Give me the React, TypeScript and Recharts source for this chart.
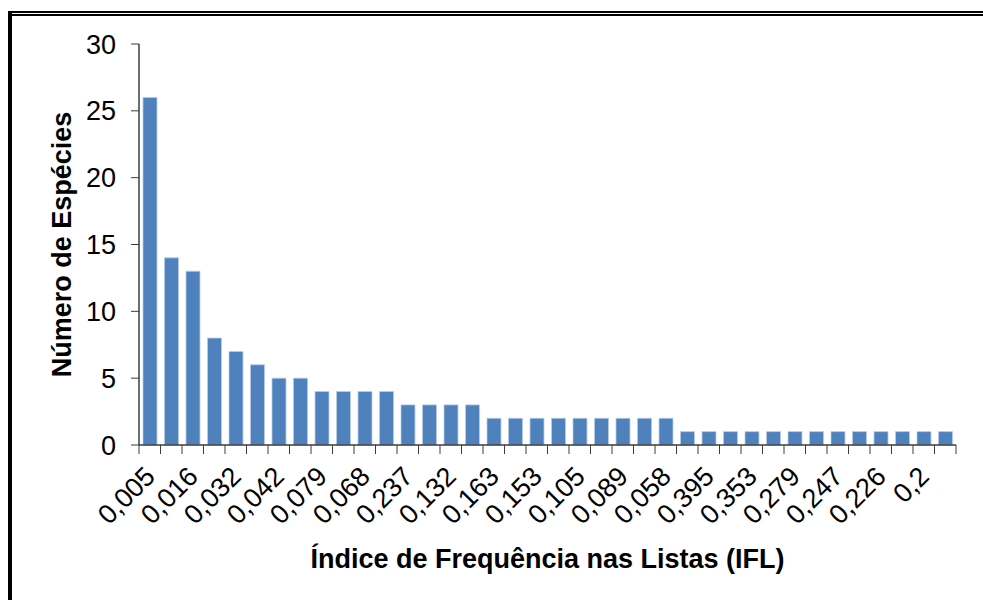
import React from "react";
import { Bar, BarChart, XAxis, YAxis } from "recharts";

// IFL categories (every other one is shown on the axis in the original)
const iflLabels = [
  "0,005", "0,011", "0,016", "0,026", "0,032", "0,037", "0,042", "0,047",
  "0,079", "0,074", "0,068", "0,063", "0,237", "0,184", "0,132", "0,121",
  "0,163", "0,158", "0,153", "0,111", "0,105", "0,095", "0,089", "0,084",
  "0,058", "0,421", "0,395", "0,368", "0,353", "0,316", "0,279", "0,263",
  "0,247", "0,232", "0,226", "0,211", "0,2", "0,195",
];

const speciesCount = [
  26, 14, 13, 8, 7, 6, 5, 5, 4, 4, 4, 4, 3, 3, 3, 3, 2, 2, 2,
  2, 2, 2, 2, 2, 2, 1, 1, 1, 1, 1, 1, 1, 1, 1, 1, 1, 1, 1,
];

const yTicks = [0, 5, 10, 15, 20, 25, 30];

const WIDTH = 983;
const HEIGHT = 600;
const MARGIN = { top: 44, right: 27, left: 0, bottom: 0 };
const Y_AXIS_W = 139;
const AXIS_COLOR = "#3c3c3c";
const FONT = "'Liberation Sans', Arial, sans-serif";
const TICK_FS = 27;
const TITLE_FS = 27;

const band = (WIDTH - MARGIN.left - MARGIN.right - Y_AXIS_W) / iflLabels.length;

const data = iflLabels.map((name, i) => ({ name, value: speciesCount[i] }));

// tick marks sit between categories (Excel style), labels on every other bar
function XTick(props: any) {
  const { x, y, index, payload } = props;
  const half = band / 2;
  const tx = x + 7;
  const ty = y + 33;
  return (
    <g>
      <line x1={x - half} x2={x - half} y1={y} y2={y + 9} stroke={AXIS_COLOR} />
      {index === iflLabels.length - 1 && (
        <line x1={x + half} x2={x + half} y1={y} y2={y + 9} stroke={AXIS_COLOR} />
      )}
      {index % 2 === 0 && (
        <text
          x={tx}
          y={ty}
          textAnchor="end"
          transform={`rotate(-45 ${tx} ${ty})`}
          fontSize={TICK_FS}
          fontFamily={FONT}
          fill="#000"
        >
          {payload.value}
        </text>
      )}
    </g>
  );
}

function YTitle(props: any) {
  const vb = props.viewBox || {};
  const cx = 62;
  const cy = (vb.y ?? 44) + (vb.height ?? 401) / 2;
  return (
    <text
      x={cx}
      y={cy}
      textAnchor="middle"
      dominantBaseline="central"
      transform={`rotate(-90 ${cx} ${cy})`}
      fontSize={TITLE_FS}
      fontWeight="bold"
      fontFamily={FONT}
      fill="#000"
    >
      Número de Espécies
    </text>
  );
}

export default function App() {
  return (
    <div
      style={{
        position: "absolute",
        left: 0,
        top: 0,
        width: WIDTH,
        height: HEIGHT,
        background: "#fff",
        overflow: "hidden",
        fontFamily: FONT,
      }}
    >
      <div style={{ position: "absolute", left: 8, top: 11, right: 0, height: 2, background: "#000" }} />
      <div style={{ position: "absolute", left: 8, top: 14, right: 0, height: 2, background: "#000" }} />
      <div style={{ position: "absolute", left: 8, top: 11, bottom: 0, width: 4, background: "#000" }} />
      <div style={{ position: "absolute", left: 0, top: 0 }}>
        <BarChart width={WIDTH} height={HEIGHT} data={data} margin={MARGIN}>
          <XAxis
            dataKey="name"
            interval={0}
            height={HEIGHT - 445 - MARGIN.bottom}
            tickLine={false}
            tickSize={0}
            tickMargin={0}
            axisLine={{ stroke: AXIS_COLOR, strokeWidth: 1.5 }}
            tick={<XTick />}
            label={{
              value: "Índice de Frequência nas Listas (IFL)",
              position: "insideBottom",
              offset: 32,
              fontSize: TITLE_FS,
              fontWeight: "bold",
              fontFamily: FONT,
              fill: "#000",
            }}
          />
          <YAxis
            width={Y_AXIS_W}
            domain={[0, 30]}
            ticks={yTicks}
            interval={0}
            tickSize={8}
            tickMargin={15}
            axisLine={{ stroke: AXIS_COLOR, strokeWidth: 1.5 }}
            tickLine={{ stroke: AXIS_COLOR }}
            tick={{ fontSize: TICK_FS, fill: "#000", fontFamily: FONT }}
            label={<YTitle />}
          />
          <Bar
            dataKey="value"
            barSize={14}
            fill="#4F81BD"
            stroke="#B7CBE4"
            strokeWidth={0.8}
            isAnimationActive={false}
          />
        </BarChart>
      </div>
    </div>
  );
}
